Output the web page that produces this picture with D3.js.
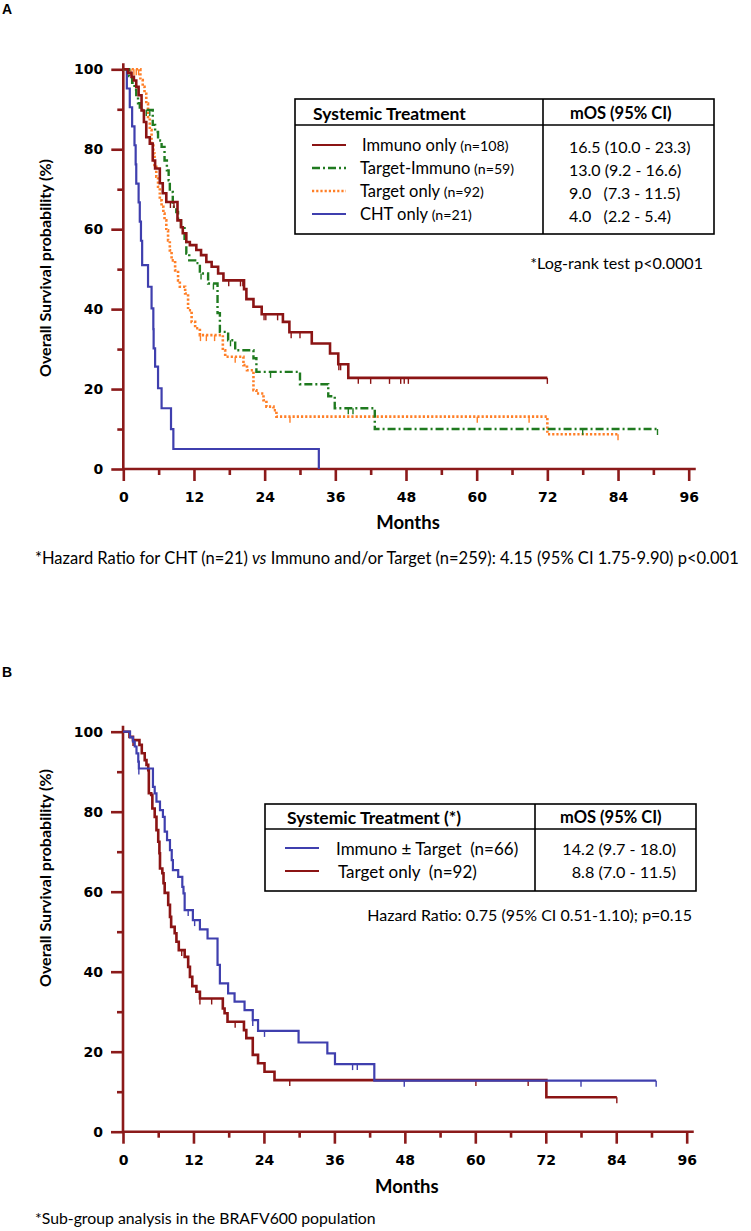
<!DOCTYPE html>
<html><head><meta charset="utf-8">
<script src="https://cdn.jsdelivr.net/npm/d3@7"></script>
<style>
html,body{margin:0;padding:0;background:#fff;}
svg{display:block;}
text{white-space:pre;}
</style>
</head><body>
<svg id="chart" width="751" height="1231"></svg>
<script>
// ---------- DATA ----------
const monthTicks = [0, 12, 24, 36, 48, 60, 72, 84, 96];
const monthMinorTicks = [6, 18, 30, 42, 54, 66, 78, 90];
const survTicks = [0, 20, 40, 60, 80, 100];
const survMinorTicks = [10, 30, 50, 70, 90];

// Panel A step curves: [month, survival % after the drop]
const immunoOnlyA = [[0,100],[0.8,99.1],[1.4,98.1],[1.8,97.2],[2.2,95.6],[2.6,93.5],[3.1,89.7],[3.5,86.8],[3.9,83.0],[4.5,81.4],[5.0,77.2],[5.4,75.2],[6.2,71.5],[6.7,69.0],[7.3,66.8],[9.2,62.2],[9.8,60.5],[10.1,59.0],[10.7,56.8],[11.3,56.0],[12.4,54.8],[13.2,53.5],[14.1,51.8],[15.0,50.6],[16.1,48.9],[17.0,47.2],[20.5,45.0],[20.9,42.5],[22.1,40.6],[23.5,38.7],[27.1,36.8],[28.2,34.2],[32.0,31.4],[35.1,28.9],[36.5,26.2],[38.2,22.8],[72,22.8]];
const immunoOnlyACensor = [8.0, 8.6, 17.9, 19.9, 20.3, 23.9, 24.2, 26.2, 28.5, 30.0, 36.6, 36.9, 39.9, 42.0, 45.2, 47.1, 47.7, 48.4, 72];

const targetImmunoA = [[0,100],[1.0,98.3],[1.5,96.6],[1.9,94.9],[2.2,93.2],[2.5,91.5],[2.8,89.8],[5.0,86.1],[5.4,84.3],[5.9,82.2],[6.5,80.6],[7.0,77.2],[7.4,74.7],[7.7,72.2],[7.9,69.3],[8.4,65.6],[9.0,64.3],[9.3,62.2],[9.8,60.6],[10.4,57.2],[10.7,53.9],[11.2,52.2],[12.2,51.5],[13.0,48.9],[14.4,46.4],[16.0,39.0],[16.4,34.3],[17.8,32.2],[19.0,29.7],[22.1,27.7],[22.6,24.3],[30.0,21.2],[34.8,18.2],[35.9,15.2],[42.7,10.0],[90.7,10.0]];
const targetImmunoACensor = [3.9, 4.5, 13.2, 15.3, 18.2, 25.0, 38.2, 39.0, 78.0, 90.7];

const targetOnlyA = [[0,100],[2.9,97.3],[3.3,95.6],[3.6,93.9],[3.9,91.4],[4.2,88.1],[4.5,84.8],[4.8,81.4],[5.1,78.9],[5.3,75.6],[5.6,73.1],[5.9,70.6],[6.2,67.2],[6.5,65.6],[6.8,63.9],[7.0,62.2],[7.3,59.7],[7.6,57.2],[7.9,54.7],[8.2,52.2],[8.8,49.7],[9.3,47.2],[9.6,45.6],[10.5,43.9],[11.0,39.7],[11.6,36.8],[12.2,35.2],[13.0,33.5],[16.9,29.7],[17.3,28.1],[20.4,26.0],[21.0,24.7],[22.1,19.7],[22.6,18.9],[23.8,17.2],[24.3,15.6],[25.5,14.7],[26.0,13.1],[72.0,8.7],[84.0,8.7]];
const targetOnlyACensor = [1.3, 1.8, 2.2, 2.6, 13.1, 14.1, 15.5, 19.0, 28.3, 60.1, 68.9, 84.0];

const chtOnlyA = [[0,100],[0.6,95.2],[1.1,90.5],[1.5,85.7],[1.9,81.0],[2.1,76.2],[2.2,71.4],[2.6,66.7],[2.8,61.9],[3.0,57.1],[3.2,51.0],[4.2,45.6],[4.8,40.2],[5.1,35.0],[5.15,30.2],[5.4,25.6],[5.9,20.2],[6.5,15.2],[8.1,10.0],[8.5,5.0],[33.2,0]];
const chtOnlyACensor = [];

// Panel B
const immunoTargetB = [[0,100],[1.2,98.6],[1.7,97.5],[2.0,96.3],[2.3,94.6],[2.6,92.5],[2.7,90.8],[5.1,86.2],[5.4,84.6],[5.7,82.5],[6.3,80.4],[6.8,78.7],[7.1,75.0],[7.5,72.9],[8.0,70.4],[8.3,67.9],[8.5,65.4],[9.4,63.7],[10.1,61.2],[10.3,59.6],[10.5,55.4],[11.9,52.9],[13.1,50.6],[14.4,48.3],[16.1,41.7],[16.5,37.1],[17.9,34.6],[19.0,32.5],[20.7,30.4],[22.1,27.9],[23.0,25.2],[29.9,22.3],[34.8,19.6],[36.1,16.9],[42.8,12.75],[90.8,12.75]];
const immunoTargetBCensor = [2.7, 11.1, 12.2, 22.1, 24.1, 39.1, 39.9, 47.9, 78.0, 90.8];

const targetOnlyB = [[0,100],[1.1,98.7],[1.7,97.9],[2.8,96.7],[3.2,94.6],[3.7,92.9],[4.0,91.7],[4.3,90.4],[4.4,84.6],[4.8,84.2],[5.0,80.8],[5.4,78.7],[5.7,75.4],[6.0,72.5],[6.2,69.6],[6.3,65.8],[6.7,64.6],[6.9,62.1],[7.1,59.7],[7.7,56.7],[8.0,53.7],[8.2,51.2],[8.8,49.6],[9.1,47.5],[9.5,45.4],[10.5,43.7],[11.1,41.2],[11.4,38.7],[11.8,36.4],[12.5,35.0],[13.1,33.3],[17.0,30.8],[17.3,29.6],[17.8,27.5],[20.6,25.4],[21.0,23.4],[22.1,19.2],[23.0,17.1],[24.1,15.0],[25.8,12.9],[72.1,8.6],[84.1,8.6]];
const targetOnlyBCensor = [1.7, 1.9, 10.0, 13.1, 15.1, 19.1, 28.4, 60.1, 69.0, 84.1];

// Legend / table text
const tableALabels = ["Immuno only", "Target-Immuno", "Target only", "CHT only"];
const tableANs = [" (n=108)", " (n=59)", " (n=92)", " (n=21)"];
const tableAMos = ["16.5 (10.0 - 23.3)", "13.0 (9.2 - 16.6)", "9.0   (7.3 - 11.5)", "4.0   (2.2 - 5.4)"];
const tableBLabels = ["Immuno \u00b1 Target  (n=66)", "Target only  (n=92)"];
const tableBMos = ["14.2 (9.7 - 18.0)", "8.8 (7.0 - 11.5)"];

// ---------- STYLE ----------
const AXIS = "#8b1a1a";
const RED = "#8b1414";
const GREEN = "#1f7a1f";
const ORANGE = "#ff7f27";
const BLUE = "#3f3fae";
const TXT = "Lato, 'Open Sans', sans-serif";
const TICKFONT = "'DejaVu Sans', Verdana, sans-serif";

const svg = d3.select("#chart");

const styleA = [
  {data: immunoOnlyA, cens: immunoOnlyACensor, color: RED, width: 2.6, dash: null},
  {data: targetImmunoA, cens: targetImmunoACensor, color: GREEN, width: 2.4, dash: "8,3,2,3"},
  {data: targetOnlyA, cens: targetOnlyACensor, color: ORANGE, width: 2.6, dash: "2.2,2"},
  {data: chtOnlyA, cens: chtOnlyACensor, color: BLUE, width: 2.2, dash: null}
];
const styleB = [
  {data: immunoTargetB, cens: immunoTargetBCensor, color: BLUE, width: 2.2, dash: null},
  {data: targetOnlyB, cens: targetOnlyBCensor, color: RED, width: 2.6, dash: null}
];

function survAt(data, t) {
  let s = data[0][1];
  for (const d of data) { if (d[0] <= t) s = d[1]; else break; }
  return s;
}

function drawPanel(x, y, series, axisLabelY, monthsY) {
  const g = svg.append("g");
  const yMajor = d3.axisLeft(y).tickValues(survTicks).tickSize(12).tickSizeOuter(0).tickPadding(8);
  const yMinor = d3.axisLeft(y).tickValues(survMinorTicks).tickSize(6).tickSizeOuter(0).tickFormat("");
  const xMajor = d3.axisBottom(x).tickValues(monthTicks).tickSize(12).tickSizeOuter(0).tickPadding(11);
  const xMinor = d3.axisBottom(x).tickValues(monthMinorTicks).tickSize(6).tickSizeOuter(0).tickFormat("");
  const x0 = x(0), y0 = y(0);
  [yMajor, yMinor].forEach(ax => {
    const a = g.append("g").attr("transform", `translate(${x0},0)`).call(ax);
    a.select(".domain").remove();
  });
  [xMajor, xMinor].forEach(ax => {
    const a = g.append("g").attr("transform", `translate(0,${y0})`).call(ax);
    a.select(".domain").remove();
  });
  g.selectAll(".tick line").attr("stroke", AXIS).attr("stroke-width", 2.6);
  g.selectAll(".tick text").attr("fill", "#000").attr("font-family", TICKFONT)
    .attr("font-weight", "bold").attr("font-size", 14);
  g.append("line").attr("x1", x0).attr("x2", x0).attr("y1", y(101.5)).attr("y2", y0)
    .attr("stroke", AXIS).attr("stroke-width", 2.6);
  g.append("line").attr("x1", x0).attr("x2", x(97.2)).attr("y1", y0).attr("y2", y0)
    .attr("stroke", AXIS).attr("stroke-width", 2.6);

  const line = d3.line().x(d => x(d[0])).y(d => y(d[1])).curve(d3.curveStepAfter);
  series.slice().reverse().forEach(s => {
    g.append("path").attr("d", line(s.data)).attr("fill", "none")
      .attr("stroke", s.color).attr("stroke-width", s.width)
      .attr("stroke-dasharray", s.dash);
    g.selectAll(null).data(s.cens).join("line")
      .attr("x1", t => x(t)).attr("x2", t => x(t))
      .attr("y1", t => y(survAt(s.data, t))).attr("y2", t => y(survAt(s.data, t)) + 6)
      .attr("stroke", s.color).attr("stroke-width", 1.4);
  });

  g.append("text").attr("transform", `translate(51,${axisLabelY}) rotate(-90)`)
    .attr("text-anchor", "middle").attr("font-family", TXT).attr("font-weight", "bold")
    .attr("font-size", 16).text("Overall Survival probability (%)");
  g.append("text").attr("x", (x(0) + x(96)) / 2 + 2).attr("y", monthsY)
    .attr("text-anchor", "middle").attr("font-family", TXT).attr("font-weight", "bold")
    .attr("font-size", 18.5).attr("dominant-baseline", "central").text("Months");
  return g;
}

// ---------- PANEL A ----------
const xA = d3.scaleLinear().domain([0, 96]).range([123.3, 688.7]);
const yA = d3.scaleLinear().domain([0, 100]).range([469, 69.3]);
drawPanel(xA, yA, styleA, 268, 522);

svg.append("text").attr("x", 2).attr("y", 14).attr("font-family", "'Liberation Sans', Arial, sans-serif")
  .attr("font-weight", "bold").attr("font-size", 14).text("A");

const tA = svg.append("g");
tA.append("rect").attr("x", 295).attr("y", 99).attr("width", 419).attr("height", 135)
  .attr("fill", "#fff").attr("stroke", "#000").attr("stroke-width", 1.6);
tA.append("line").attr("x1", 295).attr("x2", 714).attr("y1", 125).attr("y2", 125).attr("stroke", "#000").attr("stroke-width", 1.6);
tA.append("line").attr("x1", 543).attr("x2", 543).attr("y1", 99).attr("y2", 234).attr("stroke", "#000").attr("stroke-width", 1.6);
tA.append("text").attr("x", 313).attr("y", 113).attr("dominant-baseline", "central")
  .attr("font-family", TXT).attr("font-weight", "bold").attr("font-size", 17.5).text("Systemic Treatment");
tA.append("text").attr("x", 570).attr("y", 113).attr("dominant-baseline", "central")
  .attr("font-family", TXT).attr("font-weight", "bold").attr("font-size", 16.5).text("mOS (95% CI)");
const rowYA = [145, 168, 191, 214];
const labelXA = [362, 360, 360, 360];
styleA.forEach((s, i) => {
  tA.append("line").attr("x1", 312).attr("x2", 346).attr("y1", rowYA[i]).attr("y2", rowYA[i])
    .attr("stroke", s.color).attr("stroke-width", s.dash ? 2.4 : 2).attr("stroke-dasharray", s.dash);
  const t = tA.append("text").attr("x", labelXA[i]).attr("y", rowYA[i]).attr("dominant-baseline", "central")
    .attr("font-family", TXT).attr("font-size", 16.5);
  t.append("tspan").text(tableALabels[i]);
  t.append("tspan").attr("font-size", 14.2).text(tableANs[i]);
  tA.append("text").attr("x", 569).attr("y", rowYA[i] + 1).attr("dominant-baseline", "central")
    .attr("font-family", TXT).attr("font-size", 16).text(tableAMos[i]);
});
svg.append("text").attr("x", 703).attr("y", 262).attr("text-anchor", "end").attr("dominant-baseline", "central")
  .attr("font-family", TXT).attr("font-size", 16.1).text("*Log-rank test p<0.0001");

const fnA = svg.append("text").attr("x", 35).attr("y", 558).attr("dominant-baseline", "central")
  .attr("font-family", TXT).attr("font-size", 16.5);
fnA.append("tspan").text("*Hazard Ratio for CHT (n=21) ");
fnA.append("tspan").attr("font-style", "italic").text("vs");
fnA.append("tspan").text(" Immuno and/or Target (n=259): 4.15 (95% CI 1.75-9.90) p<0.001");

// ---------- PANEL B ----------
const xB = d3.scaleLinear().domain([0, 96]).range([123, 686.7]);
const yB = d3.scaleLinear().domain([0, 100]).range([1131.7, 731.7]);
drawPanel(xB, yB, styleB, 878, 1186);

svg.append("text").attr("x", 2).attr("y", 677).attr("font-family", "'Liberation Sans', Arial, sans-serif")
  .attr("font-weight", "bold").attr("font-size", 14).text("B");

const tB = svg.append("g");
tB.append("rect").attr("x", 265).attr("y", 804).attr("width", 431).attr("height", 87)
  .attr("fill", "#fff").attr("stroke", "#000").attr("stroke-width", 1.6);
tB.append("line").attr("x1", 265).attr("x2", 696).attr("y1", 829).attr("y2", 829).attr("stroke", "#000").attr("stroke-width", 1.6);
tB.append("line").attr("x1", 535).attr("x2", 535).attr("y1", 804).attr("y2", 891).attr("stroke", "#000").attr("stroke-width", 1.6);
tB.append("text").attr("x", 287).attr("y", 817).attr("dominant-baseline", "central")
  .attr("font-family", TXT).attr("font-weight", "bold").attr("font-size", 17.5).text("Systemic Treatment (*)");
tB.append("text").attr("x", 560).attr("y", 817).attr("dominant-baseline", "central")
  .attr("font-family", TXT).attr("font-weight", "bold").attr("font-size", 16.5).text("mOS (95% CI)");
const rowYB = [848, 871];
const labelXB = [336, 338];
styleB.forEach((s, i) => {
  tB.append("line").attr("x1", 285).attr("x2", 319).attr("y1", rowYB[i]).attr("y2", rowYB[i])
    .attr("stroke", s.color).attr("stroke-width", 2.2);
  tB.append("text").attr("x", labelXB[i]).attr("y", rowYB[i]).attr("dominant-baseline", "central")
    .attr("font-family", TXT).attr("font-size", 17).text(tableBLabels[i]);
  tB.append("text").attr("x", 676).attr("y", rowYB[i]).attr("text-anchor", "end").attr("dominant-baseline", "central")
    .attr("font-family", TXT).attr("font-size", 16.2).text(tableBMos[i]);
});
svg.append("text").attr("x", 692).attr("y", 914).attr("text-anchor", "end").attr("dominant-baseline", "central")
  .attr("font-family", TXT).attr("font-size", 16).text("Hazard Ratio: 0.75 (95% CI 0.51-1.10); p=0.15");

svg.append("text").attr("x", 35).attr("y", 1217).attr("dominant-baseline", "central")
  .attr("font-family", TXT).attr("font-size", 15.8).text("*Sub-group analysis in the BRAFV600 population");
</script>
</body></html>
